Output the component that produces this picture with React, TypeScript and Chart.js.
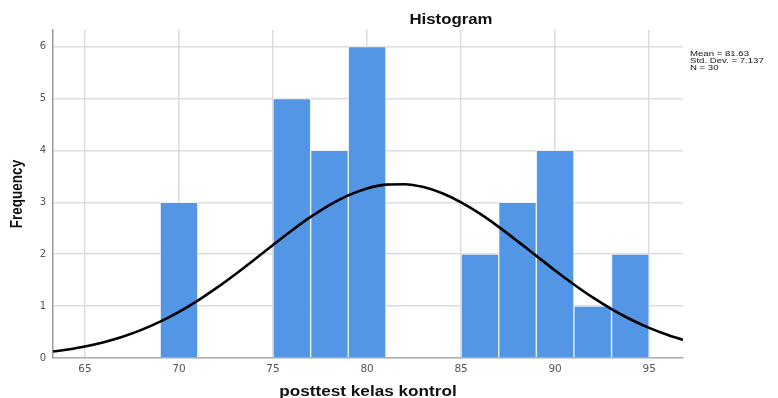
import React, { useEffect, useRef } from "react";
import { Chart, registerables } from "chart.js";

Chart.register(...registerables);

// Histogram bins (bin centres, width 2) and frequencies
const binCenters = [70, 76, 78, 80, 86, 88, 90, 92, 94];
const frequencies = [3, 5, 4, 6, 2, 3, 4, 1, 2];

// Fitted normal curve
const curveX = [63.3, 64, 65, 66, 67, 68, 69, 70, 71, 72, 73, 74, 75, 76, 77, 78, 79, 80, 81, 82, 83, 84, 85, 86, 87, 88, 89, 90, 91, 92, 93, 94, 95, 96, 96.8];
const curveY = [0.124, 0.159, 0.222, 0.305, 0.410, 0.542, 0.701, 0.889, 1.106, 1.350, 1.615, 1.894, 2.179, 2.457, 2.718, 2.947, 3.134, 3.268, 3.341, 3.349, 3.293, 3.174, 3.000, 2.781, 2.527, 2.252, 1.968, 1.686, 1.417, 1.167, 0.943, 0.747, 0.580, 0.442, 0.350];

const xTicks = [65, 70, 75, 80, 85, 90, 95];
const yTicks = [0, 1, 2, 3, 4, 5, 6];

const chartTitle = "Histogram";
const xTitle = "posttest kelas kontrol";
const yTitle = "Frequency";
const statsLines = ["Mean = 81.63", "Std. Dev. = 7.137", "N = 30"];

const textPlugin = {
  id: "textPlugin",
  afterDraw(chart: any) {
    const ctx = chart.ctx as CanvasRenderingContext2D;
    const area = chart.chartArea;
    const sx = 1.2;
    const drawStretched = (text: string, cx: number, y: number, font: string, align: CanvasTextAlign) => {
      ctx.save();
      ctx.font = font;
      ctx.textAlign = align;
      ctx.textBaseline = "alphabetic";
      ctx.fillStyle = "#111";
      ctx.translate(cx, y);
      ctx.scale(sx, 1);
      ctx.fillText(text, 0, 0);
      ctx.restore();
    };
    drawStretched(chartTitle, 451, 24, "bold 14px 'Liberation Sans', Arial, sans-serif", "center");
    drawStretched(xTitle, (area.left + area.right) / 2, 396, "bold 14.3px 'Liberation Sans', Arial, sans-serif", "center");
    // y title
    ctx.save();
    ctx.font = "bold 13.5px 'Liberation Sans', Arial, sans-serif";
    ctx.fillStyle = "#111";
    ctx.textAlign = "center";
    ctx.textBaseline = "middle";
    ctx.translate(18, (area.top + area.bottom) / 2);
    ctx.rotate(-Math.PI / 2);
    ctx.scale(1, 1.2);
    ctx.fillText(yTitle, 0, 0);
    ctx.restore();
    // stats
    statsLines.forEach((t, i) => {
      drawStretched(t, 690, 56 + i * 7, "8px 'Liberation Sans', Arial, sans-serif", "left");
    });
  },
};

export default function App() {
  const ref = useRef<HTMLCanvasElement | null>(null);
  useEffect(() => {
    if (!ref.current) return;
    const chart = new Chart(ref.current, {
      type: "bar",
      data: {
        datasets: [
          {
            type: "line",
            data: curveX.map((x, i) => ({ x, y: curveY[i] })),
            borderColor: "#000",
            borderWidth: 2.6,
            pointRadius: 0,
            tension: 0.4,
            cubicInterpolationMode: "monotone",
            fill: false,
            order: 0,
          } as any,
          {
            type: "bar",
            data: binCenters.map((x, i) => ({ x, y: frequencies[i] })),
            backgroundColor: "rgb(84,150,230)",
            borderColor: "rgba(235,243,252,0.9)",
            borderWidth: 1,
            barPercentage: 1,
            categoryPercentage: 1,
            order: 1,
          } as any,
        ],
      },
      options: {
        animation: false,
        responsive: true,
        maintainAspectRatio: false,
        layout: { padding: { top: 30, right: 95, left: 0, bottom: 0 } },
        plugins: {
          legend: { display: false },
          tooltip: { enabled: false },
          title: { display: false },
        },
        scales: {
          x: {
            type: "linear",
            min: 63.3,
            max: 96.8,
            offset: false,
            afterBuildTicks: (scale: any) => {
              scale.ticks = xTicks.map((v) => ({ value: v }));
            },
            afterFit: (scale: any) => {
              scale.height = 40;
            },
            grid: { color: "#dcdcdc", lineWidth: 1.5, drawTicks: false, offset: false },
            border: { color: "#b0b0b0", width: 1.5 },
            ticks: {
              padding: 5,
              color: "#555",
              font: { family: "'DejaVu Sans', sans-serif", size: 10.5 },
              maxRotation: 0,
              autoSkip: false,
            },
          },
          y: {
            type: "linear",
            min: 0,
            max: 6.32,
            afterBuildTicks: (scale: any) => {
              scale.ticks = yTicks.map((v) => ({ value: v }));
            },
            afterFit: (scale: any) => {
              scale.width = 53;
            },
            grid: { color: "#dcdcdc", lineWidth: 1.5, drawTicks: false },
            border: { color: "#9a9a9a", width: 1.5 },
            ticks: {
              padding: 7,
              color: "#555",
              font: { family: "'DejaVu Sans', sans-serif", size: 10 },
            },
          },
        },
      } as any,
      plugins: [textPlugin],
    });
    return () => chart.destroy();
  }, []);
  return (
    <div style={{ position: "absolute", left: 0, top: 0, width: 778, height: 398, background: "#fff" }}>
      <canvas ref={ref} />
    </div>
  );
}
